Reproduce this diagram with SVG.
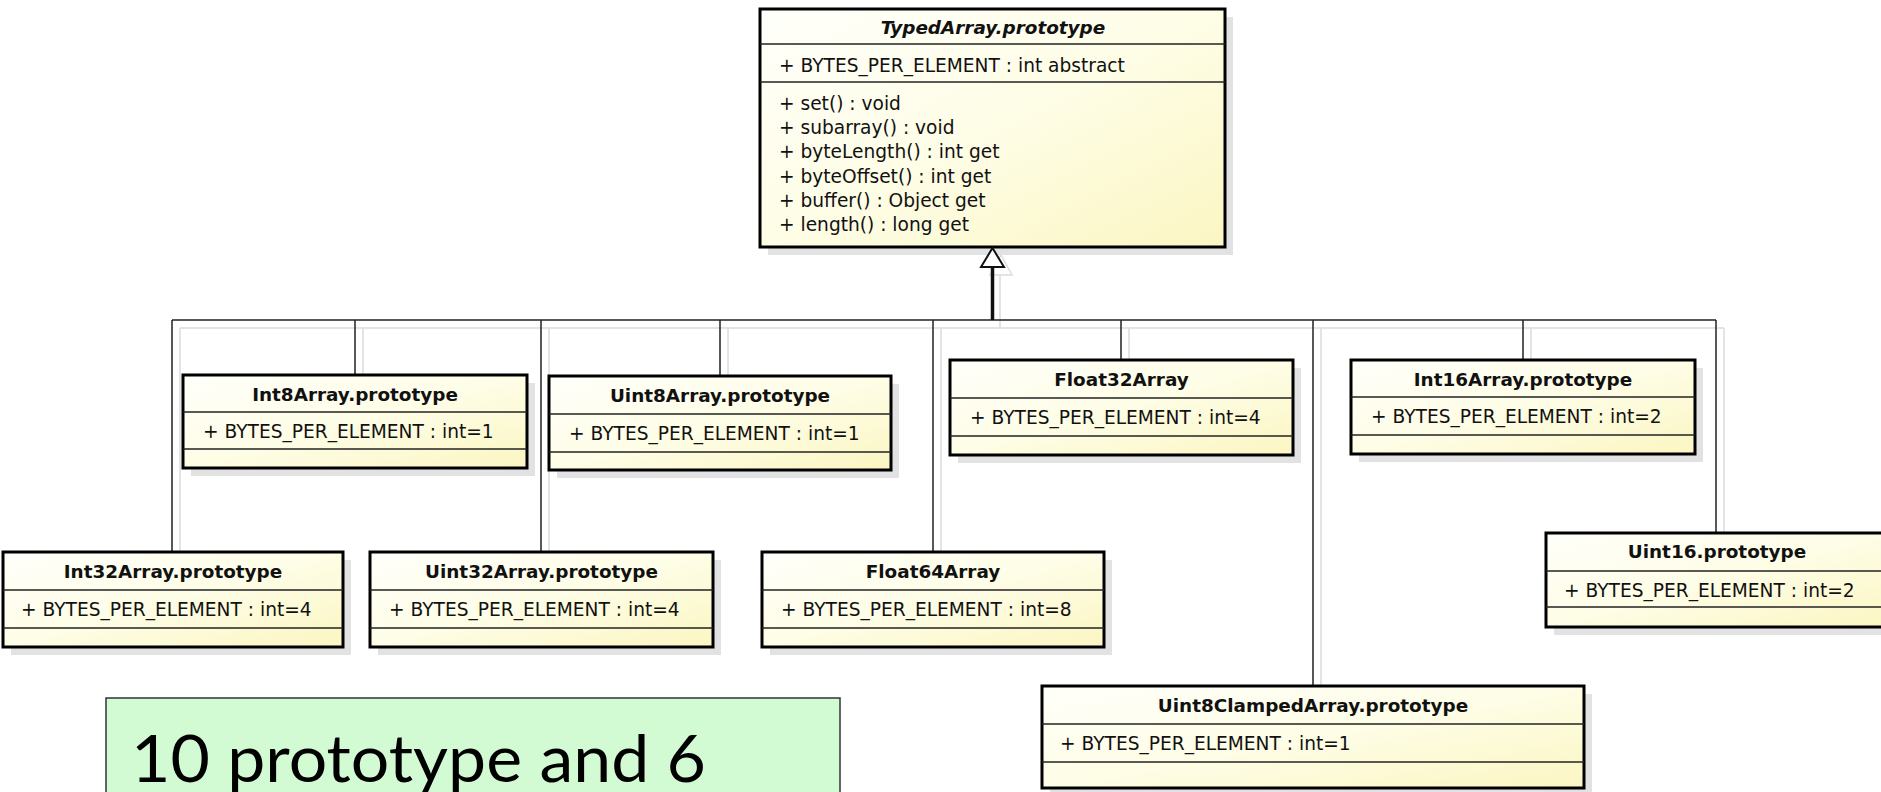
<svg xmlns="http://www.w3.org/2000/svg" width="1881" height="792" viewBox="0 0 1881 792">
<defs>
<linearGradient id="g" x1="0" y1="0" x2="1" y2="1">
<stop offset="0" stop-color="#fffffb"/>
<stop offset="0.5" stop-color="#fefde6"/>
<stop offset="1" stop-color="#fbf6c2"/>
</linearGradient>
</defs>
<style>
.box{fill:url(#g);stroke:#000;stroke-width:3}
.shadow{fill:#e2e2e2}
.sep{stroke:#222;stroke-width:1.3}
.title{font-family:"DejaVu Sans",sans-serif;font-weight:bold;font-size:18.4px;text-anchor:middle;fill:#111}
.attr{font-family:"DejaVu Sans",sans-serif;font-size:18.6px;fill:#111}
.conn{stroke:#222;stroke-width:1.5;fill:none}
.cshadow{stroke:#dcdcdc;stroke-width:1.5;fill:none}
.note{fill:#d3fbd3;stroke:#333;stroke-width:1.5}
.notetext{font-family:Lato,"Open Sans",sans-serif;font-size:66px;fill:#000}
</style>
<rect width="1881" height="792" fill="#fff"/>

<g id="connector-shadows">
<path class="cshadow" d="M180 328H1724M180 328V560M363 328V383M549 328V560M728 328V384M941 328V560M1000 275V328M1129 328V368M1321 328V694M1531 328V368M1724 328V541"/>
<path class="cshadow" d="M1001 255L1012 275H990Z"/>
</g>

<g id="TypedArray">
<rect class="shadow" x="768" y="17" width="465" height="238"/>
<rect class="box" x="760" y="9" width="465" height="238"/>
<line class="sep" x1="760" y1="44" x2="1225" y2="44"/>
<line class="sep" x1="760" y1="82" x2="1225" y2="82"/>
<text class="title" x="993" y="34" font-style="italic">TypedArray.prototype</text>
<text class="attr" x="779" y="72">+ BYTES_PER_ELEMENT : int abstract</text>
<text class="attr" x="779" y="110">+ set() : void</text>
<text class="attr" x="779" y="134">+ subarray() : void</text>
<text class="attr" x="779" y="158">+ byteLength() : int get</text>
<text class="attr" x="779" y="183">+ byteOffset() : int get</text>
<text class="attr" x="779" y="207">+ buffer() : Object get</text>
<text class="attr" x="779" y="231">+ length() : long get</text>
</g>

<g id="connectors">
<path class="conn" d="M172 320H1716M172 320V552M355 320V375M541 320V552M720 320V376M933 320V552M1121 320V360M1313 320V686M1523 320V360M1716 320V533"/>
<line x1="992.5" y1="267" x2="992.5" y2="320" stroke="#111" stroke-width="3.5"/>
<path d="M992.5 248L1004 267H981Z" fill="#fff" stroke="#111" stroke-width="2"/>
</g>

<g id="Int8Array">
<rect class="shadow" x="191" y="383" width="344" height="93"/>
<rect class="box" x="183" y="375" width="344" height="93"/>
<line class="sep" x1="183" y1="412" x2="527" y2="412"/>
<line class="sep" x1="183" y1="449" x2="527" y2="449"/>
<text class="title" x="355" y="401">Int8Array.prototype</text>
<text class="attr" x="203" y="438">+ BYTES_PER_ELEMENT : int=1</text>
</g>

<g id="Uint8Array">
<rect class="shadow" x="557" y="384" width="342" height="94"/>
<rect class="box" x="549" y="376" width="342" height="94"/>
<line class="sep" x1="549" y1="414" x2="891" y2="414"/>
<line class="sep" x1="549" y1="452" x2="891" y2="452"/>
<text class="title" x="720" y="402">Uint8Array.prototype</text>
<text class="attr" x="569" y="440">+ BYTES_PER_ELEMENT : int=1</text>
</g>

<g id="Float32Array">
<rect class="shadow" x="958" y="368" width="343" height="95"/>
<rect class="box" x="950" y="360" width="343" height="95"/>
<line class="sep" x1="950" y1="398" x2="1293" y2="398"/>
<line class="sep" x1="950" y1="436" x2="1293" y2="436"/>
<text class="title" x="1121.5" y="386">Float32Array</text>
<text class="attr" x="970" y="424">+ BYTES_PER_ELEMENT : int=4</text>
</g>

<g id="Int16Array">
<rect class="shadow" x="1359" y="368" width="344" height="94"/>
<rect class="box" x="1351" y="360" width="344" height="94"/>
<line class="sep" x1="1351" y1="397" x2="1695" y2="397"/>
<line class="sep" x1="1351" y1="435" x2="1695" y2="435"/>
<text class="title" x="1523" y="386">Int16Array.prototype</text>
<text class="attr" x="1371" y="423">+ BYTES_PER_ELEMENT : int=2</text>
</g>

<g id="Int32Array">
<rect class="shadow" x="11" y="560" width="340" height="95"/>
<rect class="box" x="3" y="552" width="340" height="95"/>
<line class="sep" x1="3" y1="590" x2="343" y2="590"/>
<line class="sep" x1="3" y1="628" x2="343" y2="628"/>
<text class="title" x="173" y="578">Int32Array.prototype</text>
<text class="attr" x="21" y="616">+ BYTES_PER_ELEMENT : int=4</text>
</g>

<g id="Uint32Array">
<rect class="shadow" x="378" y="560" width="343" height="95"/>
<rect class="box" x="370" y="552" width="343" height="95"/>
<line class="sep" x1="370" y1="590" x2="713" y2="590"/>
<line class="sep" x1="370" y1="628" x2="713" y2="628"/>
<text class="title" x="541.5" y="578">Uint32Array.prototype</text>
<text class="attr" x="389" y="616">+ BYTES_PER_ELEMENT : int=4</text>
</g>

<g id="Float64Array">
<rect class="shadow" x="770" y="560" width="342" height="95"/>
<rect class="box" x="762" y="552" width="342" height="95"/>
<line class="sep" x1="762" y1="590" x2="1104" y2="590"/>
<line class="sep" x1="762" y1="628" x2="1104" y2="628"/>
<text class="title" x="933" y="578">Float64Array</text>
<text class="attr" x="781" y="616">+ BYTES_PER_ELEMENT : int=8</text>
</g>

<g id="Uint16">
<rect class="shadow" x="1554" y="541" width="342" height="94"/>
<rect class="box" x="1546" y="533" width="342" height="94"/>
<line class="sep" x1="1546" y1="571" x2="1888" y2="571"/>
<line class="sep" x1="1546" y1="607" x2="1888" y2="607"/>
<text class="title" x="1717" y="558">Uint16.prototype</text>
<text class="attr" x="1564" y="597">+ BYTES_PER_ELEMENT : int=2</text>
</g>

<g id="Uint8ClampedArray">
<rect class="shadow" x="1050" y="694" width="542" height="102"/>
<rect class="box" x="1042" y="686" width="542" height="102"/>
<line class="sep" x1="1042" y1="724" x2="1584" y2="724"/>
<line class="sep" x1="1042" y1="762" x2="1584" y2="762"/>
<text class="title" x="1313" y="712">Uint8ClampedArray.prototype</text>
<text class="attr" x="1060" y="750">+ BYTES_PER_ELEMENT : int=1</text>
</g>

<g id="note">
<rect class="note" x="106" y="698" width="734" height="110"/>
<text class="notetext" x="131" y="782" textLength="575" lengthAdjust="spacingAndGlyphs">10 prototype and 6</text>
</g>
</svg>
